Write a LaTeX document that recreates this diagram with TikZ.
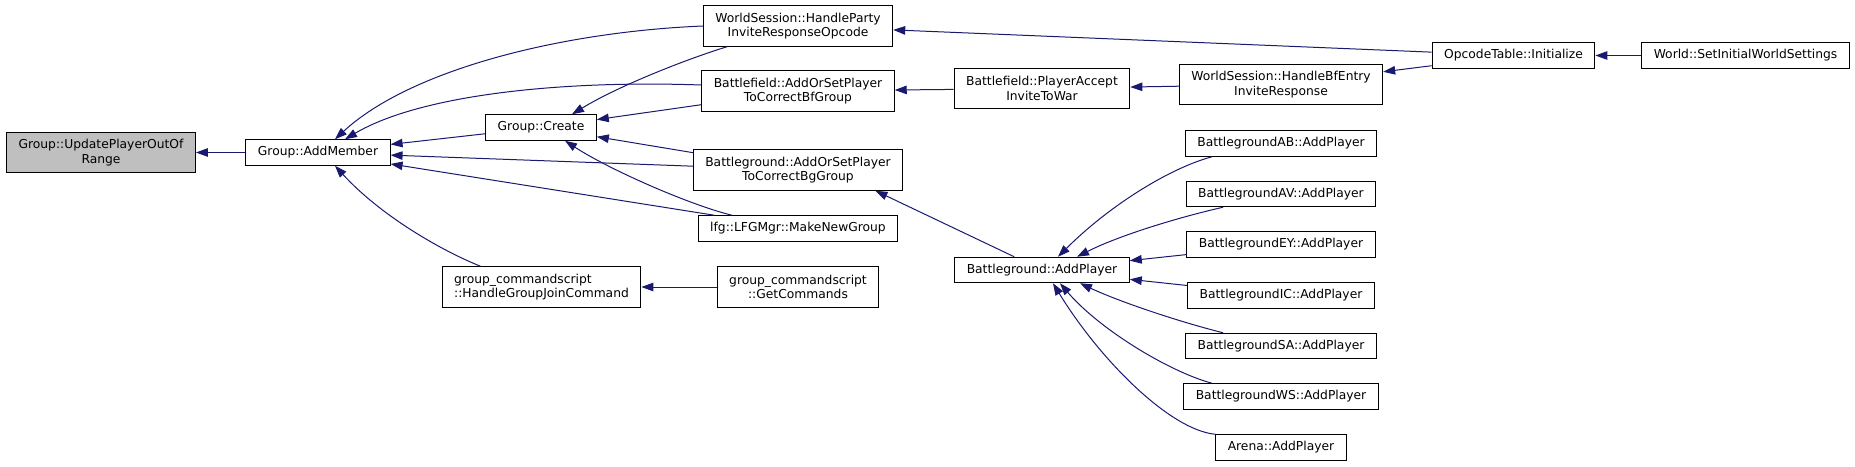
\documentclass[tikz,border=0pt]{standalone}
\usepackage{fontspec}
\setmainfont{DejaVu Sans}
\usepackage{tikz}
\usetikzlibrary{arrows.meta}
\tikzset{fn/.style = {draw, fill = white, line width = 1pt, inner xsep = 12pt, inner ysep = 3pt, minimum height = 25.5pt, align = center, font = \fontsize{12.3}{14.7}\selectfont}}
\tikzset{fn2/.style = {fn, minimum height = 40.5pt}}
\tikzset{call/.style = {mnavy, line width = 1pt, -{Triangle[length = 12pt, width = 8.5pt]}}}
\definecolor{mnavy}{rgb}{0.1, 0.1, 0.44}
\definecolor{mgrey}{rgb}{0.75, 0.75, 0.75}

\begin{document}
\begin{tikzpicture}[x = 1pt, y = -1pt]
      \useasboundingbox (0, 0) rectangle (1855, 466);

      \node [fn2, fill = mgrey] (upd) at (101, 152.5) {Group::UpdatePlayerOutOf\\Range};
      \node [fn] (am) at (318, 152.5) {Group::AddMember};
      \node [fn] (cr) at (541, 127.5) {Group::Create};
      \node [fn2, align = left] (hj) at (541.5, 287) {group\_commandscript\\::HandleGroupJoinCommand};

      \node [fn2] (hp) at (798, 26) {WorldSession::HandleParty\\InviteResponseOpcode};
      \node [fn2] (bf) at (798, 91) {Battlefield::AddOrSetPlayer\\ToCorrectBfGroup};
      \node [fn2] (bg) at (798, 170) {Battleground::AddOrSetPlayer\\ToCorrectBgGroup};
      \node [fn] (mg) at (798, 228.5) {lfg::LFGMgr::MakeNewGroup};
      \node [fn2] (gc) at (798, 287) {group\_commandscript\\::GetCommands};

      \node [fn2] (pa) at (1042, 88.5) {Battlefield::PlayerAccept\\InviteToWar};
      \node [fn] (ap) at (1042, 270) {Battleground::AddPlayer};
      \node [fn2] (be) at (1281, 84.5) {WorldSession::HandleBfEntry\\InviteResponse};
      \foreach \n/\y in {AB/143.5, AV/194, EY/244.5, IC/295.5, SA/346, WS/396.5}
        \node [fn] (\n) at (1281, \y) {Battleground\n::AddPlayer};
      \node [fn] (ar) at (1281, 447.5) {Arena::AddPlayer};

      \node [fn] (op) at (1513.5, 55.5) {OpcodeTable::Initialize};
      \node [fn] (wi) at (1745.5, 55.5) {World::SetInitialWorldSettings};

      \draw [call] (am) -- (upd);
      \draw [call] (cr) -- (am);
      \draw [call] (hp.west) .. controls (560, 32) and (410, 70) .. ([xshift = 17pt]am.north);
      \draw [call] ([yshift = 6pt]bf.west) .. controls (560, 80) and (420, 95) .. ([xshift = 27pt]am.north);
      \draw [call] (bg) -- (am);
      \draw [call] (mg) -- (am);
      \draw [call] ([xshift = -61pt]hj.north) .. controls (440, 250) and (380, 215) .. ([xshift = 17pt]am.south);

      \draw [call] ([xshift = -71pt]hp.south) .. controls (690, 58) and (620, 85) .. ([xshift = 31pt]cr.north);
      \draw [call] (bf) -- (cr);
      \draw [call] (bg) -- (cr);
      \draw [call] ([xshift = -66pt]mg.north) .. controls (690, 205) and (610, 170) .. ([xshift = 24pt]cr.south);
      \draw [call] (gc) -- (hj);

      \draw [call] (op) -- (hp);
      \draw [call] (pa) -- (bf);
      \draw [call] (be) -- (pa);
      \draw [call] (op) -- (be);
      \draw [call] (wi) -- (op);
      \draw [call] (ap) -- (bg.-15);

      \draw [call] ([xshift = -69pt]AB.south) .. controls (1170, 168) and (1110, 205) .. ([xshift = 16pt]ap.north);
      \draw [call] ([xshift = -58pt]AV.south) .. controls (1180, 217) and (1120, 235) .. ([xshift = 35pt]ap.north);
      \draw [call] (EY) -- (ap);
      \draw [call] (IC) -- (ap);
      \draw [call] ([xshift = -58pt]SA.north) .. controls (1180, 322) and (1120, 302) .. ([xshift = 38pt]ap.south);
      \draw [call] ([xshift = -69pt]WS.north) .. controls (1170, 372) and (1100, 330) .. ([xshift = 18pt]ap.south);
      \draw [call] (ar.north west) .. controls (1170, 430) and (1100, 360) .. ([xshift = 11pt]ap.south);
    \end{tikzpicture}
\end{document}
